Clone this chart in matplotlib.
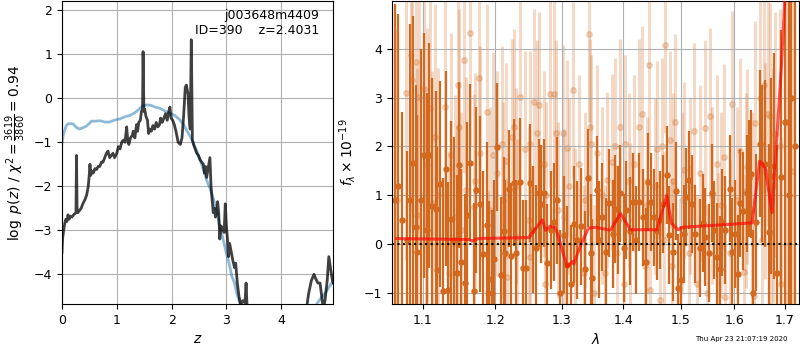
import matplotlib
matplotlib.use('Agg')
import matplotlib.pyplot as plt
from matplotlib.ticker import NullLocator, FixedLocator, FixedFormatter

# ---- left panel: log p(z) ----
z_chi = [0.0, 0.03, 0.05, 0.08, 0.11, 0.2, 0.27, 0.32, 0.38, 0.45, 0.54, 0.62, 0.69, 0.78,
         0.87, 0.95, 1.05, 1.15, 1.24, 1.3, 1.36, 1.42, 1.48, 1.55, 1.62, 1.7, 1.79, 1.88,
         1.97, 2.05, 2.15, 2.22, 2.27, 2.34, 2.4, 2.46, 2.52, 2.58, 2.64, 2.7, 2.77, 2.83,
         2.88, 2.94, 3.0, 3.05, 3.1, 3.15, 3.19, 3.25, 3.3, 3.4, 3.8, 4.2, 4.5, 4.58, 4.65,
         4.8, 4.95]
logp_chi = [-1.02, -0.8, -0.72, -0.62, -0.58, -0.58, -0.67, -0.7, -0.67, -0.63, -0.52, -0.52,
            -0.51, -0.54, -0.54, -0.5, -0.47, -0.42, -0.39, -0.35, -0.3, -0.23, -0.17, -0.15,
            -0.16, -0.2, -0.23, -0.29, -0.34, -0.38, -0.49, -0.6, -0.72, -0.87, -1.02, -1.2,
            -1.4, -1.62, -1.86, -2.05, -2.31, -2.6, -2.92, -3.2, -3.52, -3.75, -4.05, -4.2,
            -4.43, -4.67, -4.9, -5.4, -6.5, -6.0, -5.2, -4.9, -4.67, -4.43, -4.15]

z_fit = [0.0, 0.01, 0.03, 0.05, 0.07, 0.09, 0.11, 0.13, 0.15, 0.18, 0.21, 0.24, 0.255, 0.265,
         0.275, 0.29, 0.32, 0.35, 0.38, 0.42, 0.45, 0.48, 0.5, 0.51, 0.525, 0.54, 0.57, 0.6,
         0.63, 0.66, 0.69, 0.72, 0.75, 0.78, 0.81, 0.84, 0.87, 0.9, 0.93, 0.96, 1.0, 1.03,
         1.06, 1.09, 1.12, 1.15, 1.17, 1.18, 1.2, 1.22, 1.25, 1.28, 1.3, 1.33, 1.36, 1.38,
         1.4, 1.43, 1.45, 1.47, 1.48, 1.495, 1.51, 1.53, 1.56, 1.58, 1.6, 1.63, 1.66, 1.69,
         1.72, 1.75, 1.78, 1.8, 1.83, 1.86, 1.89, 1.92, 1.95, 1.97, 1.99, 2.02, 2.05, 2.08,
         2.12, 2.16, 2.19, 2.22, 2.25, 2.27, 2.3, 2.32, 2.34, 2.36, 2.38, 2.4, 2.43, 2.46,
         2.49, 2.52, 2.55, 2.58, 2.6, 2.62, 2.64, 2.66, 2.68, 2.7, 2.72, 2.74, 2.76, 2.78,
         2.8, 2.82, 2.84, 2.86, 2.88, 2.9, 2.93, 2.96, 2.98, 3.0, 3.02, 3.04, 3.06, 3.09,
         3.12, 3.15, 3.17, 3.2, 3.23, 3.26, 3.3, 3.34, 3.36, 3.38, 3.42, 3.8, 4.2, 4.45, 4.5,
         4.55, 4.6, 4.63, 4.67, 4.71, 4.74, 4.77, 4.8, 4.84, 4.87, 4.9, 4.93, 4.95]
logp_fit = [-3.5, -3.2, -3.0, -2.85, -2.75, -2.8, -2.65, -2.75, -2.68, -2.7, -2.65, -2.62,
            -2.6, -1.3, -2.5, -2.6, -2.55, -2.5, -2.4, -2.3, -2.2, -2.0, -1.7, -1.5, -1.75,
            -1.65, -1.7, -1.6, -1.62, -1.55, -1.55, -1.45, -1.45, -1.35, -1.25, -1.2, -1.35,
            -1.3, -1.25, -1.35, -1.25, -1.1, -1.15, -1.0, -0.95, -1.0, -0.75, -0.65, -0.95,
            -1.05, -0.9, -0.85, -0.75, -0.9, -0.6, -0.75, -0.55, -0.5, -0.3, -0.25, 1.06,
            -0.3, -0.25, -0.4, -0.5, -0.8, -0.7, -0.75, -0.62, -0.7, -0.55, -0.65, -0.6,
            -0.45, -0.55, -0.45, -0.35, -0.5, -0.3, -0.2, -0.45, -0.5, -0.6, -0.75, -1.0,
            -1.05, -0.9, -0.4, 0.25, 0.3, 0.1, -0.45, -0.7, 1.33, -0.95, -1.05, -1.15, -1.25,
            -1.3, -1.4, -1.45, -1.5, -1.7, -1.55, -1.8, -1.65, -1.5, -1.35, -2.0, -2.3, -2.6,
            -2.5, -2.7, -2.6, -2.35, -2.6, -3.2, -2.9, -2.95, -3.05, -2.4, -2.9, -3.2, -3.6,
            -3.3, -3.5, -3.7, -3.85, -3.75, -4.2, -4.5, -4.7, -4.6, -4.65, -4.2, -4.8, -5.5,
            -6.0, -6.0, -4.9, -4.45, -4.15, -4.0, -4.1, -4.2, -4.2, -4.5, -4.8, -4.6, -4.15,
            -3.6, -3.85, -4.1, -4.2]

# ---- right panel: spectrum (flux in 1e-19) ----
wave_a = [1.064, 1.068, 1.073, 1.079, 1.083, 1.087, 1.091, 1.093, 1.097, 1.101, 1.105, 1.108,
          1.1125, 1.117, 1.119, 1.123, 1.127, 1.131, 1.134, 1.138, 1.142, 1.146, 1.149, 1.152,
          1.157, 1.160, 1.164, 1.170, 1.173, 1.179, 1.183, 1.188, 1.191, 1.196, 1.198, 1.203,
          1.208, 1.2125, 1.215, 1.220, 1.223, 1.227, 1.231, 1.236, 1.241, 1.246, 1.252, 1.256,
          1.260, 1.265, 1.268, 1.273, 1.278, 1.283, 1.288, 1.293, 1.298, 1.303, 1.308, 1.315,
          1.320, 1.325, 1.330, 1.337, 1.342, 1.346, 1.349, 1.356, 1.360, 1.365, 1.372, 1.377,
          1.382, 1.386, 1.391, 1.395, 1.401, 1.405, 1.411, 1.417, 1.422, 1.427, 1.433, 1.438,
          1.442, 1.447, 1.452, 1.458, 1.463, 1.469, 1.475, 1.480, 1.487, 1.491, 1.495, 1.500,
          1.506, 1.510, 1.515, 1.521, 1.527, 1.535, 1.541, 1.545, 1.552, 1.557, 1.562, 1.567,
          1.572, 1.577, 1.583, 1.591, 1.596, 1.602, 1.607, 1.612, 1.617, 1.624, 1.628, 1.633,
          1.637, 1.642, 1.650, 1.654, 1.661, 1.668, 1.673, 1.678, 1.685, 1.693, 1.701, 1.708,
          1.714, 1.722]
flux_a = [0.9, 1.2, 0.5, 0.1, 0.9, 1.67, 0.35, -0.16, 0.9, 1.82, 0.3, 1.82, 0.79, 0.73, -0.52,
          1.24, -0.95, 1.55, -0.93, 0.52, 0.1, -0.58, 1.62, -0.36, -0.78, 0.6, 1.67, -0.95,
          1.11, 0.82, -0.2, 0.39, -0.71, -1.0, -0.29, 1.99, -0.63, 0.28, -0.18, 1.14, -0.24,
          1.26, -0.18, 1.28, -0.49, -0.49, 1.25, 0.3, -0.08, 1.05, 0.82, 1.05, -0.37, 0.29,
          0.46, 0.9, -1.0, 0.2, -0.42, -0.81, 0.41, 0.09, 0.37, -0.51, 1.35, -0.18, -0.69,
          1.11, 0.1, 0.56, -0.16, 0.84, 0.22, 0.73, 0.5, 1.04, -0.08, 0.7, 0.28, 0.86, 0.09,
          0.86, 0.55, -0.35, 1.28, 0.86, 0.55, 0.27, 0.5, 0.82, 1.41, 0.19, -0.15, 1.09, -0.89,
          -0.73, 0.22, 0.96, 1.31, 0.82, 0.22, -0.08, 0.44, 0.15, -0.18, 1.05, 0.29, -0.26,
          -0.51, 0.45, 0.29, 1.14, -0.16, 0.22, -0.6, 0.84, 0.68, 1.04, 1.35, 1.44, -1.0, 0.45,
          2.06, 1.65, 1.65, 0.26, 1.4, 1.6, -0.58, 1.38, 2.5, 1.0, 3.0, 2.0]
err_a = [4.0, 3.5, 2.2, 1.8, 3.6, 3.0, 2.9, 2.8, 3.1, 2.5, 2.8, 2.3, 2.6, 2.4, 2.5, 2.1, 2.3,
         2.0, 2.2, 2.0, 2.1, 2.0, 1.7, 1.9, 1.8, 1.9, 1.6, 1.8, 1.7, 1.8, 1.7, 1.7, 1.6, 1.7,
         1.6, 1.3, 1.6, 1.5, 1.5, 1.2, 1.5, 1.3, 1.5, 1.3, 1.4, 1.4, 1.2, 1.3, 1.3, 1.1, 1.2,
         1.1, 1.2, 1.2, 1.2, 1.3, 1.3, 1.2, 1.2, 1.2, 1.2, 1.2, 1.2, 1.2, 1.0, 1.2, 1.2, 1.1,
         1.2, 1.1, 1.1, 1.1, 1.1, 1.1, 1.1, 1.0, 1.1, 1.0, 1.1, 1.0, 1.1, 1.0, 1.0, 1.1, 1.0,
         1.0, 1.0, 1.0, 1.0, 1.0, 1.0, 1.0, 1.0, 1.0, 1.1, 1.1, 1.0, 1.0, 1.0, 1.0, 1.0, 1.0,
         1.0, 1.0, 1.0, 1.0, 1.0, 1.1, 1.1, 1.1, 1.1, 1.1, 1.1, 1.1, 1.2, 1.1, 1.2, 1.2, 1.2,
         1.3, 1.3, 1.4, 1.5, 1.6, 1.7, 1.8, 2.0, 2.3, 2.6, 3.0, 4.5, 5.0, 5.0, 5.0]

wave_b = [1.0667, 1.0774, 1.0839, 1.0861, 1.0917, 1.0925, 1.0947, 1.1013, 1.1049, 1.1058,
          1.1093, 1.1125, 1.1169, 1.12, 1.1304, 1.1349, 1.1373, 1.1441, 1.1464, 1.148, 1.1495,
          1.152, 1.1556, 1.158, 1.164, 1.1696, 1.172, 1.1766, 1.179, 1.1886, 1.1895, 1.192,
          1.1972, 1.2029, 1.2102, 1.212, 1.2155, 1.2175, 1.2248, 1.2272, 1.23, 1.2322, 1.2371,
          1.2446, 1.2495, 1.251, 1.2521, 1.2581, 1.2616, 1.2647, 1.2723, 1.2735, 1.276, 1.2826,
          1.2877, 1.2919, 1.295, 1.3017, 1.3033, 1.3086, 1.311, 1.3181, 1.3217, 1.327, 1.335,
          1.3375, 1.3427, 1.3445, 1.347, 1.3511, 1.3567, 1.365, 1.3702, 1.3731, 1.3813, 1.3869,
          1.3897, 1.394, 1.4008, 1.4036, 1.41, 1.412, 1.4177, 1.4263, 1.4321, 1.4378, 1.44,
          1.4435, 1.4465, 1.455, 1.4582, 1.464, 1.467, 1.4699, 1.4728, 1.4817, 1.4847, 1.487,
          1.4906, 1.4996, 1.502, 1.5056, 1.5146, 1.517, 1.5238, 1.53, 1.5361, 1.5454, 1.5486,
          1.5547, 1.558, 1.5673, 1.569, 1.575, 1.5797, 1.583, 1.5925, 1.5958, 1.605, 1.6118,
          1.6182, 1.622, 1.6248, 1.635, 1.6378, 1.6411, 1.651, 1.6544, 1.6576, 1.661, 1.6656,
          1.671, 1.672, 1.676, 1.6811, 1.69, 1.6932, 1.705, 1.716]
flux_b = [0.9, 3.09, 3.86, 3.35, 3.73, 0.6, 3.01, 3.18, 0.29, 1.62, 2.78, 0.84, 2.2, 1.0,
          2.81, -0.59, 1.82, 0.56, 0.02, 3.25, 2.4, 0.3, 3.76, 1.11, 4.31, 0.77, 1.3, 3.39,
          1.86, 2.71, -1.0, 0.7, 1.82, 1.45, 2.06, 0.9, 1.7, -0.66, 2.2, 2.4, 1.2, 0.16, 3.01,
          1.94, 0.5, 2.06, -0.25, 2.91, 2.27, 2.85, 1.65, -0.8, 1.0, 3.07, 3.08, 2.27, 0.7,
          2.27, 0.56, 1.97, 1.2, 3.16, 0.16, 1.65, -0.59, 0.9, 4.29, 2.4, 2.06, -1.0, 1.86,
          1.0, -0.59, 1.31, 1.69, 2.0, -0.18, 2.4, -0.8, 2.06, 1.3, 0.27, 1.65, 2.4, 2.67,
          -0.45, 0.8, 3.66, -0.93, 1.2, 1.94, -1.13, 2.0, 0.1, 4.08, 2.14, -0.45, 1.3, 2.5,
          -0.93, 0.9, 1.52, -0.18, 1.2, 2.32, -0.8, 1.45, 2.38, -1.0, 2.62, 1.0, 1.65, -0.45,
          0.8, 1.78, -1.07, -0.18, 2.86, 0.9, 1.9, -0.57, 1.1, 1.59, 0.7, -1.05, 2.47, 3.0,
          0.1, 3.25, 1.5, 2.67, 2.62, 0.24, 1.2, 2.25, 2.0, -0.8, 2.5, 1.5]
err_b = [3.5, 3.4, 3.2, 3.0, 3.0, 3.0, 3.0, 2.9, 2.8, 2.8, 2.8, 2.7, 2.7, 2.6, 2.6, 2.5, 2.5,
         2.5, 2.4, 2.4, 2.4, 2.4, 2.3, 2.3, 2.3, 2.3, 2.2, 2.2, 2.2, 2.2, 2.1, 2.1, 2.1, 2.1,
         2.0, 2.0, 2.0, 2.0, 2.0, 2.0, 2.0, 2.0, 2.0, 2.0, 1.9, 1.9, 1.9, 1.9, 1.9, 1.9, 1.9,
         1.9, 1.9, 1.9, 1.9, 1.9, 1.8, 1.8, 1.8, 1.8, 1.8, 1.8, 1.8, 1.8, 1.8, 1.8, 1.8, 1.8,
         1.8, 1.8, 1.8, 1.8, 1.8, 1.8, 1.8, 1.8, 1.8, 1.8, 1.8, 1.8, 1.8, 1.8, 1.8, 1.8, 1.8,
         1.8, 1.8, 1.8, 1.8, 1.8, 1.8, 1.8, 1.8, 1.8, 1.8, 1.8, 1.8, 1.8, 1.8, 1.8, 1.8, 1.8,
         1.8, 1.8, 1.8, 1.8, 1.8, 1.8, 1.8, 1.8, 1.8, 1.8, 1.9, 1.9, 1.9, 1.9, 1.9, 1.9, 1.9,
         1.9, 2.0, 2.0, 2.0, 2.0, 2.0, 2.1, 2.1, 2.2, 2.2, 2.2, 2.3, 2.3, 2.3, 2.4, 2.5, 2.8,
         3.0, 4.5, 5.0]

wave_model = [1.066, 1.1626, 1.1671, 1.176, 1.2496, 1.270, 1.275, 1.282, 1.289, 1.2935,
              1.3086, 1.317, 1.319, 1.3311, 1.3427, 1.354, 1.3785, 1.3952, 1.412, 1.458, 1.475,
              1.4836, 1.4952, 1.504, 1.5608, 1.6346, 1.6496, 1.6544, 1.6610, 1.6744, 1.6846,
              1.6932, 1.7014]
flux_model = [0.12, 0.10, 0.07, 0.12, 0.14, 0.50, 0.29, 0.37, 0.35, 0.22, -0.46, -0.35, -0.40,
              0.02, 0.33, 0.35, 0.29, 0.63, 0.30, 0.30, 1.00, 0.43, 0.30, 0.35, 0.39, 0.44,
              1.70, 1.65, 1.55, 0.65, 2.27, 3.62, 5.2]

xticks_r = [1.1, 1.2, 1.3, 1.4, 1.5, 1.6, 1.7]
spec_color = '#d2691e'

fig = plt.figure(figsize=(8, 3.5), dpi=100)

ax = fig.add_axes([0.0775, 0.131, 0.339, 0.866])
ax.plot(z_chi, logp_chi, color='tab:blue', alpha=0.5, lw=2)
ax.plot(z_fit, logp_fit, color='k', alpha=0.75, lw=2)
ax.set_xlim(0, 4.95)
ax.set_ylim(-4.68, 2.21)
ax.set_xticks([0, 1, 2, 3, 4])
ax.set_yticks([-4, -3, -2, -1, 0, 1, 2])
ax.tick_params(labelsize=9)
ax.grid()
ax.set_xlabel(r'$z$')
ax.set_ylabel(r'$\log\ p(z)$ / $\chi^2=\frac{3619}{3860}=0.94$')
ax.text(0.95, 0.975, 'j003648m4409\nID=390    z=2.4031', ha='right', va='top',
        transform=ax.transAxes, fontsize=9)

ax2 = fig.add_axes([0.49, 0.131, 0.509, 0.866])
ax2.errorbar(wave_b, flux_b, yerr=err_b, marker='o', ms=4, linestyle='none',
             color=spec_color, alpha=0.25, elinewidth=2.2, zorder=1)
ax2.errorbar(wave_a, flux_a, yerr=err_a, marker='o', ms=3.6, linestyle='none',
             color=spec_color, alpha=1.0, elinewidth=1.6, zorder=2)
ax2.plot(wave_model, flux_model, color='r', alpha=0.65, lw=2.2, zorder=3)
ax2.axhline(0, color='k', linestyle=':', lw=1.5, zorder=4)
ax2.set_xscale('log')
ax2.set_xlim(1.06, 1.73)
ax2.set_ylim(-1.22, 4.97)
ax2.xaxis.set_major_locator(FixedLocator(xticks_r))
ax2.xaxis.set_major_formatter(FixedFormatter([f'{t:.1f}' for t in xticks_r]))
ax2.xaxis.set_minor_locator(NullLocator())
ax2.set_yticks([-1, 0, 1, 2, 3, 4])
ax2.tick_params(labelsize=9)
ax2.grid()
ax2.set_xlabel(r'$\lambda$')
ax2.set_ylabel(r'$f_\lambda\times10^{-19}$')

fig.text(0.985, 0.022, 'Thu Apr 23 21:07:19 2020', ha='right', va='bottom', fontsize=5)

fig.savefig('out.png', dpi=100)
